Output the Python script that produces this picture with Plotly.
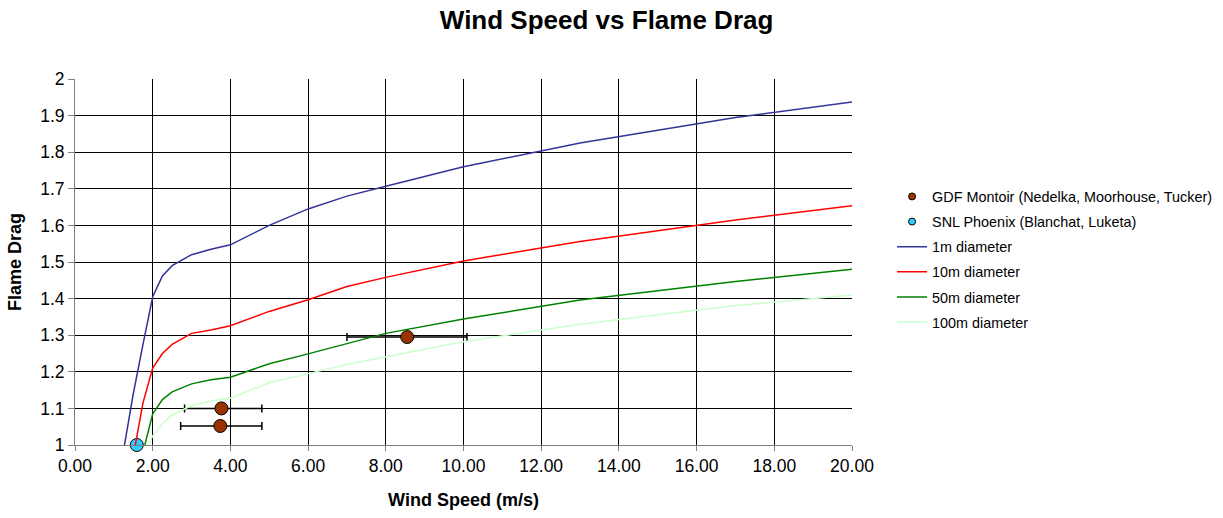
import plotly.graph_objects as go

# Wind speed sample points (m/s) for the modelled flame-drag curves
wind_speed = [1.25, 1.5, 1.75, 2.0, 2.25, 2.5, 3.0, 3.5, 4.0, 5.0, 6.0, 7.0, 8.0, 10.0, 13.0, 17.0, 20.0]

# Flame drag per pool diameter (None where the curve is not defined)
drag_1m = [0.985, 1.14, 1.275, 1.405, 1.462, 1.49, 1.52, 1.535, 1.547, 1.60, 1.645, 1.68, 1.707, 1.76, 1.825, 1.895, 1.937]
drag_10m = [None, 0.97, 1.115, 1.21, 1.25, 1.275, 1.305, 1.314, 1.326, 1.365, 1.397, 1.433, 1.458, 1.503, 1.556, 1.615, 1.654]
drag_50m = [None, None, 0.98, 1.085, 1.124, 1.145, 1.167, 1.178, 1.185, 1.222, 1.249, 1.278, 1.305, 1.344, 1.396, 1.447, 1.48]
drag_100m = [None, None, 0.97, 1.025, 1.058, 1.082, 1.108, 1.12, 1.128, 1.17, 1.195, 1.22, 1.241, 1.282, 1.33, 1.381, 1.41]

# Experimental data: GDF Montoir with wind speed ranges
gdf_speed = [3.77, 3.74, 8.55]
gdf_drag = [1.10, 1.052, 1.295]
gdf_speed_low = [2.82, 2.72, 7.0]
gdf_speed_high = [4.81, 4.81, 10.09]

# Experimental data: SNL Phoenix
snl_speed = [1.59]
snl_drag = [1.0]

FONT = "Arial, 'Liberation Sans', sans-serif"
GDF_COLOR = "#993300"
SNL_COLOR = "#33CCFF"

fig = go.Figure()

fig.add_trace(go.Scatter(
    x=gdf_speed, y=gdf_drag, mode="markers", showlegend=False,
    marker=dict(size=13, color=GDF_COLOR, line=dict(color="black", width=1)),
    error_x=dict(type="data", symmetric=False,
                 array=[h - x for h, x in zip(gdf_speed_high, gdf_speed)],
                 arrayminus=[x - l for x, l in zip(gdf_speed, gdf_speed_low)],
                 color="black", thickness=1.5, width=4),
    cliponaxis=False,
))
fig.add_trace(go.Scatter(
    x=snl_speed, y=snl_drag, mode="markers", showlegend=False,
    marker=dict(size=13, color=SNL_COLOR, line=dict(color="black", width=1)),
    cliponaxis=False,
))

# Legend entries for the experimental series, with small legend markers
for i, (name, col) in enumerate([
    ("GDF Montoir (Nedelka, Moorhouse, Tucker)", GDF_COLOR),
    ("SNL Phoenix (Blanchat, Luketa)", SNL_COLOR),
]):
    fig.add_trace(go.Scatter(
        x=[None], y=[None], mode="markers", name=name, legendgroup=f"m{i}",
        marker=dict(size=7, color=col, line=dict(color="black", width=1)),
    ))

curves = [
    ("1m diameter", drag_1m, "#333399"),
    ("10m diameter", drag_10m, "#FF0000"),
    ("50m diameter", drag_50m, "#008000"),
    ("100m diameter", drag_100m, "#CCFFCC"),
]
for i, (name, ys, col) in enumerate(curves):
    fig.add_trace(go.Scatter(
        x=wind_speed, y=ys, mode="lines", name=name, legendgroup=f"c{i}",
        line=dict(color=col, width=1.5), connectgaps=False,
    ))

fig.update_layout(
    width=1223, height=518,
    margin=dict(l=75, r=371, t=79, b=73, autoexpand=False),
    paper_bgcolor="white", plot_bgcolor="white",
    font=dict(family=FONT, color="black"),
    title=dict(text="<b>Wind Speed vs Flame Drag</b>", x=0.496, xref="container",
               xanchor="center", y=0.962, yref="container", yanchor="middle",
               font=dict(size=26, family=FONT)),
    legend=dict(x=0.7294, xref="container", xanchor="left",
                y=0.6514, yref="container", yanchor="top",
                font=dict(size=14.4, family=FONT), tracegroupgap=3.4,
                bgcolor="rgba(0,0,0,0)"),
    showlegend=True,
)
fig.update_xaxes(
    range=[0, 20], dtick=2, tickformat=".2f",
    showgrid=True, gridcolor="black", gridwidth=1,
    showline=True, linecolor="#808080", linewidth=1,
    ticks="outside", ticklen=5, tickcolor="#808080",
    tickfont=dict(size=17.5), zeroline=False,
    title=dict(text="<b>Wind Speed (m/s)</b>", font=dict(size=18), standoff=18),
)
fig.update_yaxes(
    range=[1, 2], dtick=0.1,
    showgrid=True, gridcolor="black", gridwidth=1,
    showline=True, linecolor="#808080", linewidth=1,
    ticks="outside", ticklen=6, tickcolor="#808080",
    tickfont=dict(size=17.5), zeroline=False,
    title=dict(text="<b>Flame Drag</b>", font=dict(size=18), standoff=13),
)

fig.write_html("out.html")
